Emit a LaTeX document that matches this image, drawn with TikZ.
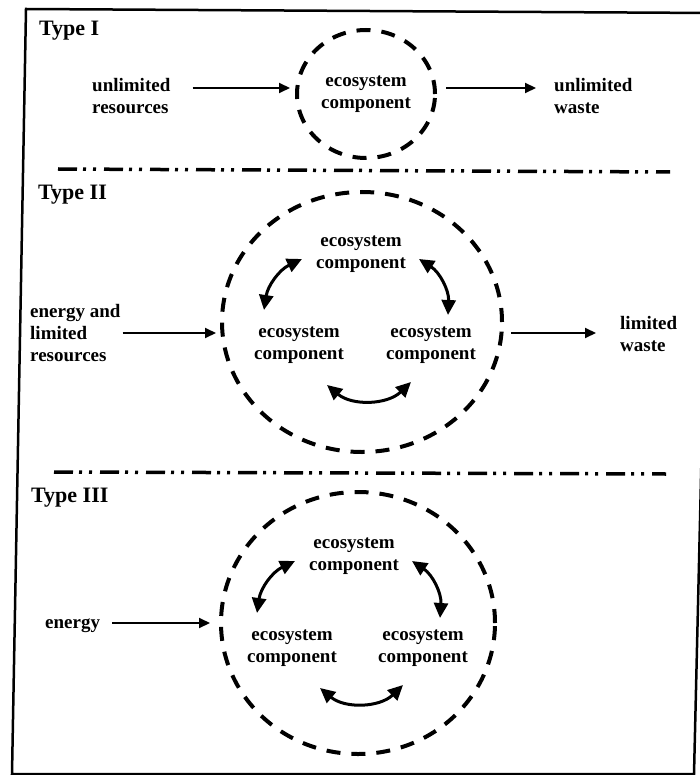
\documentclass[tikz,border=0pt]{standalone}
\usepackage{fontspec}
\setmainfont{Liberation Serif}
\usetikzlibrary{arrows.meta,shapes.geometric}
\begin{document}
\begin{tikzpicture}[x=1pt,y=-1pt,
  txt/.style={font=\fontsize{19}{22}\selectfont\bfseries, inner sep=0pt, align=center},
  sidetxt/.style={txt, align=left, anchor=west},
  heading/.style={font=\fontsize{22}{26}\selectfont\bfseries, inner sep=0pt, anchor=base west},
  boundary/.style={draw, ellipse, line width=4pt, dash pattern=on 14pt off 11pt, inner sep=0pt},
  flow/.style={line width=2pt, -{Triangle[length=11pt,width=10pt]}},
  exchange/.style={line width=3pt, {Triangle[length=15pt,width=14pt]}-{Triangle[length=15pt,width=14pt]}},
  divider/.style={line width=3.5pt, dash pattern=on 19pt off 6pt on 3pt off 7pt on 3pt off 8pt},
  frame/.style={line width=2.5pt, line join=miter}
]
\useasboundingbox (0,0) rectangle (700,775);
\clip (0,0) rectangle (700,775);

% outer frame
\draw[frame] (26,9) -- (712,13) -- (694,774) -- (12,774) -- cycle;

% ---------- Type I ----------
\node[heading] (h1) at (39,36) {Type I};
\node[sidetxt] (ures) at (92,96) {unlimited\\resources};
\node[txt, boundary, minimum width=138pt, minimum height=128pt] (c1) at (366,94) {ecosystem\\component};
\node[sidetxt] (uwaste) at (554,96) {unlimited\\waste};
\draw[flow] ([shift={(22,-8)}]ures.east) -- ([shift={(-5,-6)}]c1.west);
\draw[flow] ([shift={(9,-6)}]c1.east) -- ([shift={(-18,-8)}]uwaste.west);

\draw[divider] (58,169) -- (670,172);

% ---------- Type II ----------
\node[heading] (h2) at (38,200) {Type II};
\node[boundary, minimum width=280pt, minimum height=260pt] (c2) at (362,322) {};
\node[txt] (t2) at (361,254) {ecosystem\\component};
\node[txt] (l2) at (299,345) {ecosystem\\component};
\node[txt] (r2) at (431,345) {ecosystem\\component};
\node[sidetxt] (inII) at (30,333) {energy and\\limited\\resources};
\node[sidetxt] (outII) at (620,334) {limited\\waste};
\draw[flow] ([xshift=2]inII.east) -- ([shift={(-4,11)}]c2.west);
\draw[flow] ([shift={(7,11)}]c2.east) -- ([shift={(-24,-1)}]outII.west);
\draw[exchange] ([shift={(-59,5)}]t2.center) to[bend right=28] ([shift={(-35,-35)}]l2.center);
\draw[exchange] ([shift={(58,5)}]t2.center) to[bend left=30] ([shift={(17,-30)}]r2.center);
\draw[exchange] ([shift={(28,40)}]l2.center) to[bend right=42] ([shift={(-20,37)}]r2.center);

\draw[divider] (54,472) -- (666,474);

% ---------- Type III ----------
\node[heading] (h3) at (31,502) {Type III};
\node[boundary, minimum width=274pt, minimum height=262pt] (c3) at (358,623) {};
\node[txt] (t3) at (354,556) {ecosystem\\component};
\node[txt] (l3) at (292,648) {ecosystem\\component};
\node[txt] (r3) at (423,648) {ecosystem\\component};
\node[txt, anchor=base west] (inIII) at (45,628) {energy};
\draw[flow] ([shift={(12,-5)}]inIII.base east) -- ([shift={(-9,0)}]c3.west);
\draw[exchange] ([shift={(-59,5)}]t3.center) to[bend right=28] ([shift={(-35,-35)}]l3.center);
\draw[exchange] ([shift={(58,5)}]t3.center) to[bend left=30] ([shift={(17,-30)}]r3.center);
\draw[exchange] ([shift={(28,40)}]l3.center) to[bend right=42] ([shift={(-20,37)}]r3.center);
\end{tikzpicture}
\end{document}
